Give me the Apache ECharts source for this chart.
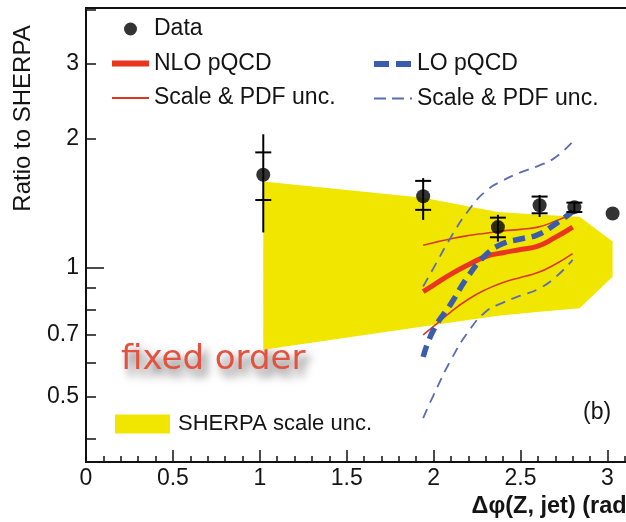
<!DOCTYPE html>
<html><head><meta charset="utf-8">
<script src="https://cdn.jsdelivr.net/npm/echarts@6/dist/echarts.min.js"></script>
<style>html,body{margin:0;padding:0;background:#fff}#c{width:626px;height:522px}</style>
</head><body><div id="c"></div>
<script>
// ---- data ----
var dataX  = [1.02, 1.94, 2.37, 2.61, 2.81, 3.03];
var dataY  = [1.65, 1.47, 1.245, 1.40, 1.386, 1.34];
var statLo = [1.44, 1.366, 1.179, 1.341, 1.35, 1.34];
var statHi = [1.86, 1.596, 1.31, 1.467, 1.42, 1.34];
var totLo  = [1.21, 1.294, 1.152, 1.315, 1.35, 1.34];
var totHi  = [2.05, 1.62, 1.33, 1.48, 1.42, 1.34];

var bandX     = [1.02, 1.94, 2.37, 2.61, 2.84, 3.03];
var bandUpper = [1.59, 1.457, 1.351, 1.33, 1.317, 1.152];
var bandLower = [0.644, 0.73, 0.773, 0.79, 0.805, 0.954];

var theoryX    = [1.94, 2.0, 2.1, 2.2, 2.3, 2.4, 2.5, 2.6, 2.7, 2.8];
var nloCentral = [0.88, 0.912, 0.967, 1.017, 1.063, 1.085, 1.104, 1.124, 1.178, 1.245];
var nloUp      = [1.13, 1.145, 1.17, 1.19, 1.205, 1.22, 1.23, 1.245, 1.285, 1.34];
var nloDown    = [0.698, 0.73, 0.79, 0.845, 0.89, 0.925, 0.95, 0.975, 1.02, 1.08];
var loCentral  = [0.62, 0.717, 0.825, 0.958, 1.072, 1.14, 1.168, 1.195, 1.265, 1.354];
var loUp       = [0.905, 1.0, 1.18, 1.36, 1.51, 1.60, 1.67, 1.728, 1.81, 1.97];
var loDown     = [0.446, 0.505, 0.61, 0.71, 0.79, 0.83, 0.862, 0.892, 0.95, 1.044];

var xLabels = [0, 0.5, 1, 1.5, 2, 2.5, 3];
var yLabels = [0.5, 0.7, 1, 2, 3];
var yTicks  = [0.4, 0.5, 0.6, 0.7, 0.8, 0.9, 2, 3, 4];
var yMajorTicks = [1];

// ---- styling ----
var FONT = 'Liberation Sans, Arial, sans-serif';
var INK = '#141414';
var RED = '#e8361f', RED_THIN = '#d93a26', BLUE = '#3b5cab', BLUE_THIN = '#5b6cb4', YELLOW = '#f1e600';
var NO_SYMBOL = { opacity: 0 };

function pairs(xs, ys) { return xs.map(function (x, i) { return [x, ys[i]]; }); }
function lineSeries(name, ys, color, width, dash, z) {
  return { type: 'line', name: name, data: pairs(theoryX, ys), smooth: true, symbol: 'none',
    lineStyle: { color: color, width: width, type: dash || 'solid' }, itemStyle: { color: color },
    z: z, silent: true };
}

var chart = echarts.init(document.getElementById('c'));
var option = {
  animation: false,
  backgroundColor: '#ffffff',
  grid: { left: 86, right: -6, top: 8, bottom: 60, show: true, borderColor: '#111', borderWidth: 2,
          backgroundColor: 'transparent', containLabel: false, outerBoundsMode: 'none' },
  xAxis: {
    type: 'value', min: 0, max: Math.PI, interval: 0.5,
    name: 'Δφ(Z, jet) (rad)', nameLocation: 'middle', nameGap: 26,
    nameTextStyle: { fontFamily: FONT, fontSize: 23.5, fontWeight: 'bold', color: INK,
                     verticalAlign: 'top', padding: [0, 0, 0, 388] },
    axisLine: { show: true, lineStyle: { color: '#111', width: 2 } },
    axisTick: { show: true, inside: true, length: 12, lineStyle: { color: '#111', width: 1.5 } },
    minorTick: { show: true, splitNumber: 5, length: 6, lineStyle: { color: '#111', width: 1.5 } },
    axisLabel: { customValues: xLabels, fontFamily: FONT, fontSize: 23, color: INK, margin: 5,
                 formatter: function (v) { return String(v); } },
    splitLine: { show: false }, minorSplitLine: { show: false }
  },
  yAxis: [{
    type: 'log', logBase: 10, min: 0.3525, max: 4.04,
    name: 'Ratio to SHERPA', nameLocation: 'middle', nameGap: 51, nameRotate: 90,
    nameTextStyle: { fontFamily: FONT, fontSize: 24, color: INK, padding: [0, 0, 0, 233] },
    axisLine: { show: true, lineStyle: { color: '#111', width: 2 } },
    axisTick: { show: true, inside: true, length: 10, customValues: yTicks, lineStyle: { color: '#111', width: 1.5 } },
    axisLabel: { customValues: yLabels, fontFamily: FONT, fontSize: 23, color: INK, margin: 7,
                 formatter: function (v) { return String(Math.round(v * 100) / 100); } },
    splitLine: { show: false }, minorTick: { show: false }
  }, {
    type: 'log', logBase: 10, min: 0.3525, max: 4.04, position: 'left',
    axisLine: { show: false },
    axisTick: { show: true, inside: true, length: 18, customValues: yMajorTicks, lineStyle: { color: '#111', width: 1.5 } },
    axisLabel: { show: false }, splitLine: { show: false }
  }],
  legend: [{
    orient: 'vertical', left: 109, top: 17, padding: 0, itemGap: 10.5, itemWidth: 37, itemHeight: 13,
    selectedMode: false,
    textStyle: { fontFamily: FONT, fontSize: 23, color: INK, lineHeight: 24 },
    formatter: function (n) { return n.replace(/^.*: /, ''); },
    data: [
      { name: 'Data', icon: 'circle', itemStyle: { color: '#000' } },
      { name: 'NLO pQCD', lineStyle: { width: 6, color: RED }, itemStyle: NO_SYMBOL },
      { name: 'NLO: Scale & PDF unc.', lineStyle: { width: 1.8, color: RED_THIN }, itemStyle: NO_SYMBOL }
    ]
  }, {
    orient: 'vertical', left: 371, top: 52, padding: 0, itemGap: 10.5, itemWidth: 38, itemHeight: 13,
    selectedMode: false,
    textStyle: { fontFamily: FONT, fontSize: 23, color: INK, lineHeight: 24 },
    formatter: function (n) { return n.replace(/^.*: /, ''); },
    data: [
      { name: 'LO pQCD', lineStyle: { width: 6, color: BLUE, type: [15, 7] }, itemStyle: NO_SYMBOL },
      { name: 'LO: Scale & PDF unc.', lineStyle: { width: 1.8, color: BLUE_THIN, type: [12, 6] }, itemStyle: NO_SYMBOL }
    ]
  }, {
    orient: 'vertical', left: 115, top: 413, padding: 0, itemWidth: 55, itemHeight: 19,
    selectedMode: false,
    textStyle: { fontFamily: FONT, fontSize: 22, color: INK, padding: [0, 0, 0, 3] },
    data: [{ name: 'SHERPA scale unc.', icon: 'rect', itemStyle: { color: YELLOW } }]
  }],
  graphic: [
    { type: 'text', left: 121, top: 343, silent: true,
      style: { text: 'fixed order', fontFamily: 'DejaVu Sans', fontSize: 34, fill: '#e5513f',
               textShadowColor: 'rgba(0,0,0,0.65)', textShadowBlur: 10, textShadowOffsetX: 5, textShadowOffsetY: 7 } },
    { type: 'text', left: 583, top: 401, silent: true,
      style: { text: '(b)', fontFamily: FONT, fontSize: 23, fill: INK } }
  ],
  series: [
    {
      type: 'custom', name: 'SHERPA scale unc.', silent: true, z: 1,
      itemStyle: { color: YELLOW },
      data: bandX.map(function (x, i) { return [x, bandUpper[i], bandLower[i]]; }),
      encode: { x: 0, y: [1, 2] },
      renderItem: function (params, api) {
        if (params.dataIndex !== 0) return null;
        var pts = [], i;
        for (i = 0; i < bandX.length; i++) pts.push(api.coord([bandX[i], bandUpper[i]]));
        for (i = bandX.length - 1; i >= 0; i--) pts.push(api.coord([bandX[i], bandLower[i]]));
        return { type: 'polygon', shape: { points: pts }, style: { fill: YELLOW } };
      }
    },
    lineSeries('NLO: Scale & PDF unc.', nloUp, RED_THIN, 1.6, 'solid', 2),
    lineSeries('NLO: Scale & PDF unc.', nloDown, RED_THIN, 1.6, 'solid', 2),
    lineSeries('NLO pQCD', nloCentral, RED, 5, 'solid', 3),
    lineSeries('LO: Scale & PDF unc.', loUp, BLUE_THIN, 1.8, [10, 7], 4),
    lineSeries('LO: Scale & PDF unc.', loDown, BLUE_THIN, 1.8, [10, 7], 4),
    lineSeries('LO pQCD', loCentral, BLUE, 5.5, [12, 7], 5),
    {
      type: 'custom', name: 'Data errors', silent: true, z: 6,
      data: dataX.map(function (x, i) { return [x, dataY[i], totLo[i], totHi[i], statLo[i], statHi[i]]; }),
      encode: { x: 0, y: [1, 2, 3, 4, 5] },
      renderItem: function (params, api) {
        var x = api.value(0);
        var tHi = api.coord([x, api.value(3)]), tLo = api.coord([x, api.value(2)]);
        var sHi = api.coord([x, api.value(5)]), sLo = api.coord([x, api.value(4)]);
        var st = { stroke: '#000', lineWidth: 2 };
        var hw = 8, kids = [];
        if (api.value(3) > api.value(2)) kids.push({ type: 'line', shape: { x1: tHi[0], y1: tHi[1], x2: tLo[0], y2: tLo[1] }, style: st });
        if (api.value(5) > api.value(4)) {
          kids.push({ type: 'line', shape: { x1: sHi[0] - hw, y1: sHi[1], x2: sHi[0] + hw, y2: sHi[1] }, style: st });
          kids.push({ type: 'line', shape: { x1: sLo[0] - hw, y1: sLo[1], x2: sLo[0] + hw, y2: sLo[1] }, style: st });
        }
        return { type: 'group', children: kids };
      }
    },
    {
      type: 'scatter', name: 'Data', data: pairs(dataX, dataY), symbol: 'circle', symbolSize: 14,
      itemStyle: { color: '#000' }, z: 7, silent: true
    }
  ]
};
chart.setOption(option);
</script>
</body></html>
